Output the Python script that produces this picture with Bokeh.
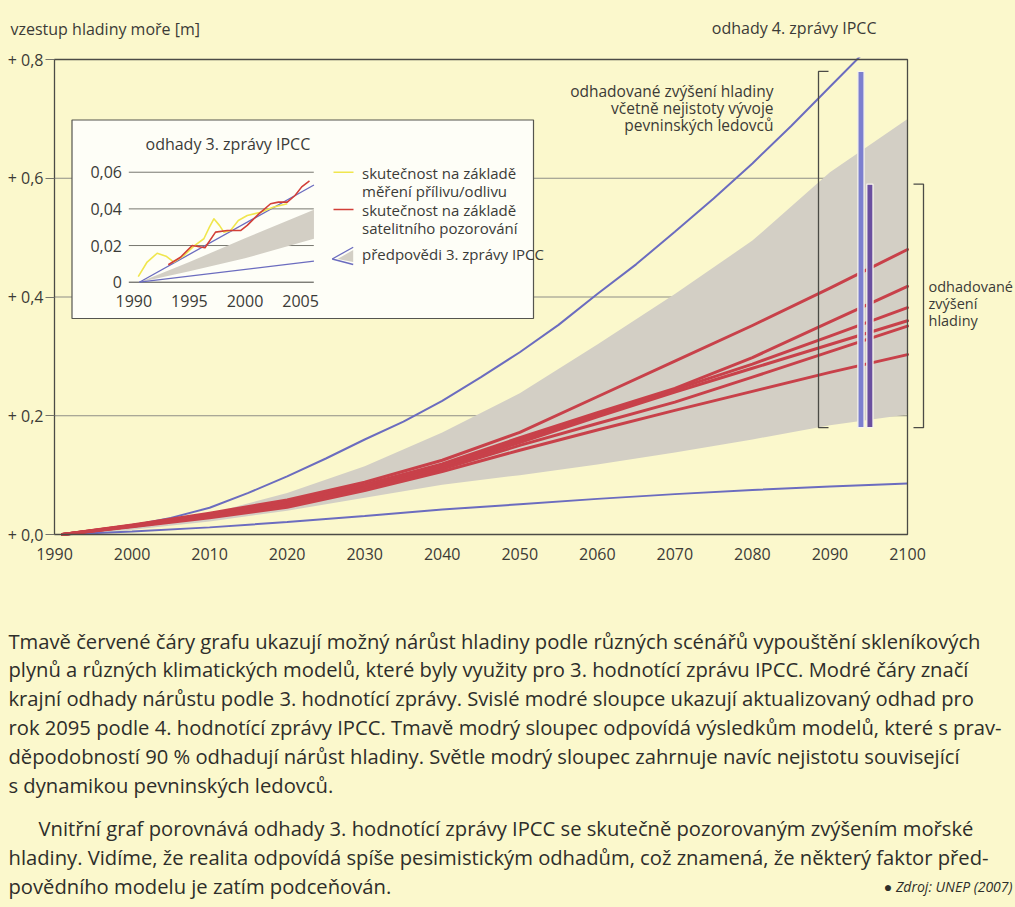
from bokeh.plotting import figure
from bokeh.layouts import column
from bokeh.models import Range1d, FixedTicker, CustomJSTickFormatter, Label
from bokeh.core.properties import value
from bokeh.embed import file_html
from bokeh.resources import INLINE

# ---------------- data ----------------
years = [1991, 2000, 2010, 2020, 2030, 2040, 2050, 2060, 2070, 2080, 2090, 2100]
tar_high_years = [1991, 1995, 2000, 2005, 2010, 2015, 2020, 2025, 2030, 2035, 2040, 2045,
                  2050, 2055, 2060, 2065, 2070, 2075, 2080, 2085, 2090, 2095, 2100]
tar_high = [0.0, 0.005, 0.015, 0.028, 0.045, 0.070, 0.098, 0.128, 0.160, 0.190, 0.225, 0.265,
            0.307, 0.353, 0.405, 0.455, 0.510, 0.566, 0.625, 0.688, 0.754, 0.820, 0.885]
tar_low = [0.0, 0.005, 0.012, 0.021, 0.031, 0.042, 0.051, 0.060, 0.068, 0.075, 0.081, 0.086]
envelope_high = [0.0, 0.012, 0.035, 0.070, 0.115, 0.172, 0.238, 0.320, 0.405, 0.495, 0.610, 0.700]
envelope_low = [0.0, 0.008, 0.022, 0.040, 0.062, 0.084, 0.100, 0.118, 0.138, 0.160, 0.184, 0.202]
scenario_a = [0.0, 0.016, 0.036, 0.058, 0.088, 0.125, 0.172, 0.232, 0.292, 0.352, 0.415, 0.480]
scenario_b = [0.0, 0.015, 0.034, 0.055, 0.084, 0.119, 0.163, 0.205, 0.246, 0.298, 0.358, 0.418]
scenario_c = [0.0, 0.015, 0.033, 0.054, 0.082, 0.116, 0.159, 0.201, 0.244, 0.287, 0.334, 0.382]
scenario_d = [0.0, 0.014, 0.031, 0.051, 0.079, 0.113, 0.155, 0.198, 0.240, 0.280, 0.320, 0.360]
scenario_e = [0.0, 0.014, 0.030, 0.049, 0.077, 0.110, 0.150, 0.187, 0.223, 0.265, 0.308, 0.351]
scenario_f = [0.0, 0.013, 0.028, 0.046, 0.074, 0.106, 0.142, 0.176, 0.209, 0.241, 0.273, 0.303]

ar4_year = 2095
ar4_low = [0.18, 0.18]      # light bar (incl. land-ice uncertainty), dark bar (models, 90 %)
ar4_high = [0.78, 0.59]

x_ticks = [1990, 2000, 2010, 2020, 2030, 2040, 2050, 2060, 2070, 2080, 2090, 2100]
y_ticks = [0.0, 0.2, 0.4, 0.6, 0.8]

# inset (3rd IPCC report vs observations)
inset_proj_years = [1990.5, 2006.2]
inset_high = [0.0, 0.053]
inset_low = [0.0, 0.0115]
inset_band_years = [1990.5, 1995, 2000, 2006.2]
inset_band_high = [0.0, 0.011, 0.024, 0.0395]
inset_band_low = [0.0, 0.006, 0.013, 0.0237]
tide_years = [1990.4, 1991.2, 1992.1, 1992.9, 1993.6, 1994.5, 1995.4, 1996.3, 1996.8, 1997.2,
              1997.7, 1998.1, 1998.7, 1999.4, 2000.2, 2001.4, 2002.6, 2003.8]
tide_values = [0.003, 0.011, 0.0158, 0.0142, 0.011, 0.0145, 0.0197, 0.0237, 0.030, 0.0346,
               0.031, 0.0273, 0.0282, 0.0337, 0.0364, 0.0382, 0.041, 0.0428]
sat_years = [1993.1, 1994.2, 1995.25, 1995.9, 1996.4, 1997.35, 1998.4, 1999.6, 2000.2, 2001.25,
             2002.3, 2003.0, 2003.8, 2004.5, 2005.1, 2005.8]
sat_values = [0.0095, 0.0136, 0.0200, 0.0193, 0.0188, 0.0273, 0.0282, 0.0282, 0.0310, 0.0373,
              0.0428, 0.0437, 0.0437, 0.0473, 0.0520, 0.0553]
inset_x_ticks = [1990, 1995, 2000, 2005]
inset_x_labels = ["1990", "1995", "2000", "2005"]
inset_y_ticks = [0.0, 0.02, 0.04, 0.06]
inset_y_labels = ["0", "0,02", "0,04", "0,06"]

body_par1 = [
    "Tmavě červené čáry grafu ukazují možný nárůst hladiny podle různých scénářů vypouštění skleníkových",
    "plynů a různých klimatických modelů, které byly využity pro 3. hodnotící zprávu IPCC. Modré čáry značí",
    "krajní odhady nárůstu podle 3. hodnotící zprávy. Svislé modré sloupce ukazují aktualizovaný odhad pro",
    "rok 2095 podle 4. hodnotící zprávy IPCC. Tmavě modrý sloupec odpovídá výsledkům modelů, které s prav-",
    "děpodobností 90 % odhadují nárůst hladiny. Světle modrý sloupec zahrnuje navíc nejistotu související",
    "s dynamikou pevninských ledovců.",
]
body_par2 = [
    "Vnitřní graf porovnává odhady 3. hodnotící zprávy IPCC se skutečně pozorovaným zvýšením mořské",
    "hladiny. Vidíme, že realita odpovídá spíše pesimistickým odhadům, což znamená, že některý faktor před-",
    "povědního modelu je zatím podceňován.",
]

# ---------------- style / layout ----------------
BG = "#fbf8cc"
TXT = "#3b3b37"
BODY = "#2e2e2a"
AX = "#4b4b46"
GRID = "#8e8e86"
BAND = "#d3cfc5"
RED = "#c8414a"
BLUE = "#6b6cbf"
LIGHT = "#7c7fcf"
DARK = "#6a4f9f"
FONT = "Open Sans"

W = 1015
TOP_H = 44            # title strip: page y 0..44
MAIN_H = 534          # chart: page y 44..578
BOT_H = 907 - TOP_H - MAIN_H

# data -> page pixel mapping of the chart
PX1990, PX2100 = 54, 907
PY0, PY08 = 534, 59
FPL, FPR, FPT, FPB = 52, W, 57, 536     # frame (page px), slightly wider than the box


def mx(px):
    return x_ticks[0] + (px - PX1990) * (x_ticks[-1] - x_ticks[0]) / (PX2100 - PX1990)


def my(py):
    return y_ticks[0] + (PY0 - py) * (y_ticks[-1] - y_ticks[0]) / (PY0 - PY08)


IXO, IXS = 133.3, 11.12     # inset: page px of 1990, px per year
IYO, IYS = 281.7, 1833.0    # inset: page px of 0, px per metre


def ix(px):
    return 1990 + (px - IXO) / IXS


def iy(py):
    return (IYO - py) / IYS


def no_align(f):
    try:
        f.frame_align = False
    except Exception:
        pass


def blank_fig(height, y_top):
    f = figure(width=W, height=height, x_range=Range1d(0, W), y_range=Range1d(y_top + height, y_top),
               output_backend="svg", toolbar_location=None,
               x_axis_location=None, y_axis_location=None,
               min_border_left=0, min_border_right=0, min_border_top=0, min_border_bottom=0)
    f.grid.visible = False
    f.outline_line_color = None
    f.background_fill_color = BG
    f.border_fill_color = BG
    no_align(f)
    return f


def add_label(fig, x, y, text, size="16px", align="left", color=TXT, style="normal"):
    fig.add_layout(Label(x=x, y=y, text=text, text_font=FONT, text_font_size=size,
                         text_color=color, text_align=align, text_baseline="middle",
                         text_font_style=style))


# ---------------- top strip ----------------
top = blank_fig(TOP_H, 0)
add_label(top, 10, 28, "vzestup hladiny moře [m]")
add_label(top, 876, 27, "odhady 4. zprávy IPCC", align="right")

# ---------------- main chart ----------------
p = figure(width=W, height=MAIN_H,
           x_range=Range1d(mx(FPL), mx(FPR)), y_range=Range1d(my(FPB), my(FPT)),
           output_backend="svg", toolbar_location=None,
           min_border_left=FPL, min_border_right=0,
           min_border_top=FPT - TOP_H, min_border_bottom=TOP_H + MAIN_H - FPB)
no_align(p)
p.extra_x_ranges = {"inset": Range1d(ix(FPL), ix(FPR))}
p.extra_y_ranges = {"inset": Range1d(iy(FPB), iy(FPT))}
p.background_fill_color = BG
p.border_fill_color = BG
p.outline_line_color = None
p.grid.visible = False

p.xaxis.ticker = FixedTicker(ticks=x_ticks)
p.xaxis.formatter = CustomJSTickFormatter(code="return tick.toFixed(0);")
p.xaxis.major_tick_out = 0
p.xaxis.major_tick_in = 0
p.xaxis.major_label_standoff = 11
p.yaxis.ticker = FixedTicker(ticks=y_ticks)
p.yaxis.formatter = CustomJSTickFormatter(code="return '+ ' + tick.toFixed(1).replace('.', ',');")
p.yaxis.major_tick_out = 7
p.yaxis.major_tick_in = 2
p.yaxis.major_tick_line_color = "#74746c"
p.yaxis.major_label_standoff = 2
for ax in (p.xaxis, p.yaxis):
    ax.axis_line_color = None
    ax.minor_tick_out = 0
    ax.minor_tick_in = 0
    ax.major_label_text_font = FONT
    ax.major_label_text_font_size = "16px"
    ax.major_label_text_color = TXT

# grid lines over the chart box
n = len(y_ticks)
p.segment(x0=[x_ticks[0]] * n, x1=[x_ticks[-1]] * n, y0=y_ticks, y1=y_ticks,
          line_color=GRID, line_width=1)

p.varea(x=years, y1=envelope_low, y2=envelope_high, fill_color=BAND)
p.line(years, tar_low, line_color=BLUE, line_width=2)
p.line(tar_high_years, tar_high, line_color=BLUE, line_width=2)
for s in (scenario_a, scenario_b, scenario_c, scenario_d, scenario_e, scenario_f):
    p.line(years, s, line_color=RED, line_width=3, line_join="round", line_cap="round")

dodge = [-1.0, 0.15]
p.vbar(x=[ar4_year + d for d in dodge], width=0.8, bottom=ar4_low, top=ar4_high,
       fill_color=[LIGHT, DARK], line_color="#f6f4ec", line_width=1.3)


def bracket(x_px, tick_px, lo, hi):
    xv, xt = mx(x_px), mx(x_px + tick_px)
    p.line(x=[xt, xv, xv, xt], y=[hi, hi, lo, lo], line_color=AX, line_width=1.3)


bracket(818, 10, min(ar4_low), max(ar4_high))
bracket(923, -10, ar4_low[1], ar4_high[1])

# chart box
p.quad(left=x_ticks[0], right=x_ticks[-1], bottom=y_ticks[0], top=y_ticks[-1],
       fill_color=None, line_color=AX, line_width=1.3)

# ---------------- inset ----------------
p.quad(left=mx(71.5), right=mx(533), top=my(119.5), bottom=my(318),
       fill_color="#fefef7", line_color="#55554f", line_width=1.2)
IN = dict(x_range_name="inset", y_range_name="inset")
m = len(inset_y_ticks)
p.segment(x0=[ix(128.3)] * m, x1=[ix(313.3)] * m, y0=inset_y_ticks, y1=inset_y_ticks,
          line_color=["#45453f"] + ["#77776f"] * (m - 1), line_width=1, **IN)
p.varea(x=inset_band_years, y1=inset_band_low, y2=inset_band_high, fill_color=BAND, **IN)
p.line(inset_proj_years, inset_low, line_color=BLUE, line_width=1.3, **IN)
p.line(inset_proj_years, inset_high, line_color=BLUE, line_width=1.3, **IN)
p.line(tide_years, tide_values, line_color="#f0e64e", line_width=1.6, line_join="round", **IN)
p.line(sat_years, sat_values, line_color="#d23f38", line_width=1.6, line_join="round", **IN)

p.text(x=[ix(121.5)] * m, y=inset_y_ticks, text=inset_y_labels,
       text_font=value(FONT), text_font_size="16px", text_color=TXT,
       text_align="right", text_baseline="middle", **IN)
p.text(x=inset_x_ticks, y=[iy(300)] * len(inset_x_ticks), text=inset_x_labels,
       text_font=value(FONT), text_font_size="16px", text_color=TXT,
       text_align="center", text_baseline="middle", **IN)

# inset legend swatches (layout positions)
p.segment(x0=[mx(333)] * 2, x1=[mx(353)] * 2, y0=[my(171.7), my(209)], y1=[my(171.7), my(209)],
          line_color=["#f0e64e", "#d23f38"], line_width=1.6)
p.patch(x=[mx(352.7), mx(337), mx(352.7)], y=[my(249.5), my(258.5), my(261.5)],
        fill_color=BAND, line_color=None)
p.multi_line(xs=[[mx(352.7), mx(331.7)], [mx(331.7), mx(352.7)]],
             ys=[[my(246.7), my(258.5)], [my(258.5), my(264)]],
             line_color=BLUE, line_width=1.3)


def mlabel(px, py, text, size="16px", align="left"):
    add_label(p, mx(px), my(py), text, size=size, align=align)


mlabel(145, 143, "odhady 3. zprávy IPCC")
for py, t in ((172, "skutečnost na základě"), (190, "měření přílivu/odlivu"),
              (209, "skutečnost na základě"), (227, "satelitního pozorování"),
              (253, "předpovědi 3. zprávy IPCC")):
    mlabel(361.5, py, t, size="15px")

for py, t in ((90, "odhadované zvýšení hladiny"), (107, "včetně nejistoty vývoje"),
              (124, "pevninských ledovců")):
    mlabel(773, py, t, size="15.5px", align="right")
for py, t in ((286, "odhadované"), (303, "zvýšení"), (320, "hladiny")):
    mlabel(928, py, t, size="14.5px")

# ---------------- body text ----------------
bot = blank_fig(BOT_H, TOP_H + MAIN_H)
BSIZE = "20.2px"
for i, t in enumerate(body_par1):
    add_label(bot, 8, 640 + i * 28.8, t, size=BSIZE, color=BODY)
for i, t in enumerate(body_par2):
    add_label(bot, 38 if i == 0 else 8, 827 + i * 29, t, size=BSIZE, color=BODY)
add_label(bot, 1012, 886, "● Zdroj: UNEP (2007)", size="14px", align="right", color=BODY, style="italic")

layout = column(top, p, bot, spacing=0, styles={"background-color": BG})
open("out.html", "w").write(file_html(layout, INLINE))
